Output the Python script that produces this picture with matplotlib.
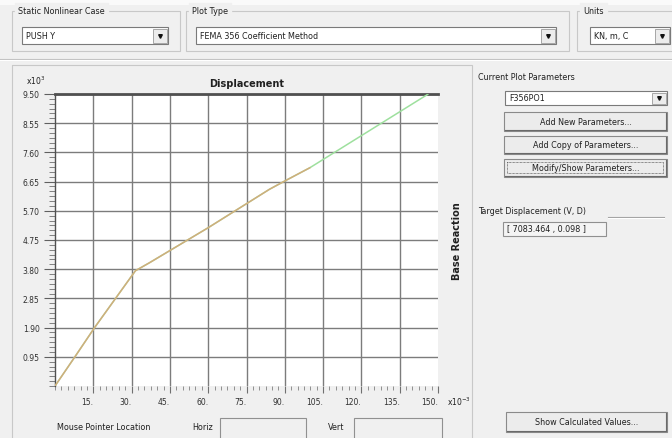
import matplotlib
matplotlib.use('Agg')
import matplotlib.pyplot as plt
from matplotlib.patches import Rectangle
import numpy as np

# Pushover curve (displacement x10^-3 m, base reaction x10^3 kN)
disp = [0, 7.8, 15.5, 31.5, 37, 60, 84, 90, 99.8, 146]
shear = [0, 0.95, 1.90, 3.75, 4.01, 5.15, 6.40, 6.67, 7.10, 9.49]
n_orange = 9  # points drawn in the tan segment

x_ticks = [15, 30, 45, 60, 75, 90, 105, 120, 135, 150]
x_labels = ['15.', '30.', '45.', '60.', '75.', '90.', '105.', '120.', '135.', '150.']
y_ticks = [0.95, 1.90, 2.85, 3.80, 4.75, 5.70, 6.65, 7.60, 8.55, 9.50]
y_labels = ['0.95', '1.90', '2.85', '3.80', '4.75', '5.70', '6.65', '7.60', '8.55', '9.50']

W, H = 672, 439
FONT = 'DejaVu Sans'
plt.rcParams['font.family'] = FONT

fig = plt.figure(figsize=(W / 100, H / 100), dpi=100)
fig.patch.set_facecolor('#f0f0f0')

# background axes in pixel coordinates for the dialog widgets
bg = fig.add_axes([0, 0, 1, 1])
bg.set_xlim(0, W)
bg.set_ylim(H, 0)
bg.axis('off')
bg.set_zorder(0)


def rect(x0, y0, x1, y1, fc='none', ec='#a0a0a0', lw=0.8):
    bg.add_patch(Rectangle((x0, y0), x1 - x0, y1 - y0, fc=fc, ec=ec, lw=lw))


def label(x, y, s, **kw):
    kw.setdefault('fontsize', 5.8)
    kw.setdefault('color', '#202020')
    kw.setdefault('va', 'center')
    bg.text(x, y, s, **kw)


def combo(x0, y0, x1, y1, s):
    rect(x0, y0, x1, y1, fc='white', ec='#7a7a7a')
    rect(x1 - 15, y0 + 1.5, x1 - 1.5, y1 - 1.5, fc='#ececec', ec='#9a9a9a', lw=0.6)
    bg.plot(x1 - 8, (y0 + y1) / 2, marker='v', ms=2.6, color='#101010')
    label(x0 + 4, (y0 + y1) / 2, s)


def button(x0, y0, x1, y1, s, focus=False):
    rect(x0, y0, x1, y1, fc='#ececec', ec='#8a8a8a')
    bg.plot([x0 + 1, x1 - 1], [y1 - 1, y1 - 1], color='#6a6a6a', lw=0.8)
    bg.plot([x1 - 1, x1 - 1], [y0 + 1, y1 - 1], color='#6a6a6a', lw=0.8)
    if focus:
        rect(x0 + 3, y0 + 3, x1 - 4, y1 - 4, ec='#303030', lw=0.5)
        bg.patches[-1].set_linestyle((0, (1, 1)))
    label((x0 + x1) / 2, (y0 + y1) / 2, s, ha='center')


# top strip and group boxes
rect(0, 0, W, 6, fc='#fafafa', ec='none')
for gx0, gx1, title in [(12, 180, 'Static Nonlinear Case'),
                        (186, 569, 'Plot Type'),
                        (577, 675, 'Units')]:
    rect(gx0, 12, gx1, 52, ec='#c8c8c8')
    label(gx0 + 6, 12, title, backgroundcolor='#f0f0f0')
combo(22, 28, 168, 45, 'PUSH Y')
combo(196, 28, 556, 45, 'FEMA 356 Coefficient Method')
combo(590, 28, 670, 45, 'KN, m, C')

# separator and plot panel frame
bg.plot([0, W], [60, 60], color='#c0c0c0', lw=0.8)
bg.plot([0, W], [61, 61], color='white', lw=0.8)
rect(12, 66, 472, 445, ec='#c8c8c8')

# right panel
label(478, 78, 'Current Plot Parameters')
combo(505, 92, 667, 106, 'F356PO1')
button(504, 113, 667, 132, 'Add New Parameters...')
button(504, 137, 667, 155, 'Add Copy of Parameters...')
button(504, 160, 667, 178, 'Modify/Show Parameters...', focus=True)
label(478, 212, 'Target Displacement (V, D)')
bg.plot([608, 664], [218, 218], color='#a0a0a0', lw=0.8)
bg.plot([608, 664], [219, 219], color='white', lw=0.8)
rect(503, 223, 606, 237, fc='#f4f4f4', ec='#909090')
label(507, 230, '[ 7083.464 , 0.098 ]')
button(506, 413, 667, 433, 'Show Calculated Values...')

# bottom mouse location boxes
label(57, 428, 'Mouse Pointer Location')
label(192, 428, 'Horiz')
rect(220, 419, 306, 445, fc='#f0f0f0', ec='#909090')
label(328, 428, 'Vert')
rect(354, 419, 442, 445, fc='#f0f0f0', ec='#909090')

# plot area
ax = fig.add_axes([55 / W, 1 - 387 / H, 383 / W, 292 / H])
ax.set_zorder(1)
ax.set_facecolor('white')
ax.plot(disp, shear, color='#9ee09e', lw=1.1, zorder=3)
ax.plot(disp[:n_orange], shear[:n_orange], color='#d6a878', lw=1.1, alpha=0.9, zorder=4)
ax.set_xlim(0, 150)
ax.set_ylim(0, 9.5)

ax.set_xticks(x_ticks)
ax.set_xticklabels(x_labels, fontsize=5.5, color='#303030', ha='right')
ax.set_yticks(y_ticks)
ax.set_yticklabels(y_labels, fontsize=5.5, color='#303030')
ax.set_xticks(np.arange(0, 150.1, 2.5), minor=True)
ax.set_yticks(np.arange(0, 9.51, 0.95 / 6), minor=True)
ax.tick_params(axis='x', which='major', length=5, width=0.8, color='#707070', pad=3)
ax.tick_params(axis='x', which='minor', length=3, width=0.7, color='#909090')
ax.tick_params(axis='y', which='major', length=8, width=0.8, color='#606060', pad=3)
ax.tick_params(axis='y', which='minor', length=4, width=0.7, color='#808080')
ax.grid(which='major', color='#7c7c7c', lw=1.0)
ax.xaxis.get_gridlines()[-1].set_visible(False)

ax.spines['right'].set_visible(False)
ax.spines['bottom'].set_visible(False)
ax.spines['top'].set_linewidth(2.0)
ax.spines['top'].set_color('#505050')
ax.spines['left'].set_linewidth(1.0)
ax.spines['left'].set_color('#505050')

ax.set_title('Displacement', fontsize=7, fontweight='bold', color='#202020', pad=6)
ax.text(1.05, 0.5, 'Base Reaction', transform=ax.transAxes, rotation=90,
        fontsize=7, fontweight='bold', color='#202020', ha='center', va='center')
label(36, 81, r'x10$^3$', ha='center', fontsize=5.5)
label(447, 402, r'x10$^{-3}$', fontsize=5.5)

fig.savefig('out.png', dpi=100, facecolor=fig.get_facecolor())
